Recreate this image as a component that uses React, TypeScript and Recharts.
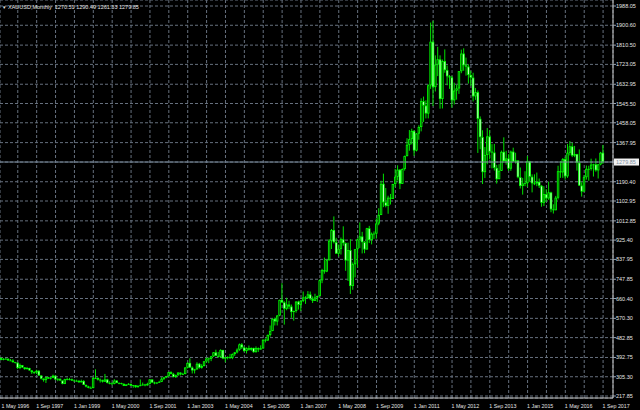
import { Bar, CartesianGrid, ComposedChart, ReferenceLine, XAxis, YAxis } from "recharts";

// monthly XAUUSD, May 1996 .. Sep 2017 (open of each bar = previous close)
const firstOpen = 393;

const closes = [
  391, 382, 385, 387, 379, 379, 371, 369,
  345, 358, 348, 340, 345, 334, 326, 325, 332, 311, 296, 290,
  303, 297, 301, 310, 293, 296, 288, 273, 294, 292, 294, 288,
  287, 287, 280, 286, 268, 261, 255, 254, 299, 300, 292, 290,
  283, 293, 277, 275, 273, 288, 277, 277, 273, 264, 270, 273,
  265, 267, 258, 263, 267, 270, 266, 273, 293, 279, 275, 279,
  282, 296, 302, 308, 326, 318, 304, 312, 324, 317, 318, 347,
  368, 347, 334, 339, 364, 346, 354, 375, 388, 386, 398, 416,
  400, 396, 427, 388, 394, 395, 391, 408, 416, 428, 452, 438,
  422, 435, 428, 436, 417, 435, 429, 434, 473, 470, 495, 513,
  568, 556, 583, 654, 643, 614, 633, 624, 599, 604, 646, 632,
  650, 665, 662, 679, 659, 650, 665, 672, 743, 789, 783, 834,
  923, 971, 916, 864, 886, 929, 912, 833, 880, 717, 816, 884,
  928, 942, 916, 883, 979, 926, 954, 955, 1001, 1040, 1181, 1097,
  1081, 1118, 1113, 1180, 1213, 1245, 1181, 1248, 1307, 1358, 1384, 1421,
  1332, 1409, 1439, 1556, 1536, 1500, 1628, 1826, 1620, 1722, 1746, 1566,
  1738, 1697, 1669, 1664, 1560, 1604, 1614, 1692, 1772, 1719, 1713, 1675,
  1663, 1578, 1597, 1476, 1393, 1234, 1312, 1396, 1327, 1323, 1253, 1202,
  1240, 1326, 1284, 1296, 1250, 1327, 1282, 1287, 1211, 1171, 1182, 1184,
  1283, 1213, 1183, 1183, 1190, 1172, 1095, 1134, 1115, 1142, 1065, 1061,
  1118, 1238, 1233, 1293, 1215, 1322, 1351, 1309, 1316, 1277, 1173, 1146,
  1211, 1249, 1249, 1268, 1269, 1242, 1269, 1322, 1280,
];

const highs = [
  395, 392, 390, 391, 388, 386, 385, 373,
  370, 365, 358, 348, 350, 346, 335, 330, 337, 335, 312, 298,
  306, 305, 303, 315, 310, 298, 297, 289, 296, 301, 300, 297,
  293, 292, 289, 292, 290, 270, 264, 261, 305, 339, 302, 297,
  292, 318, 296, 285, 280, 294, 290, 280, 278, 275, 271, 276,
  274, 268, 268, 268, 293, 279, 273, 278, 294, 294, 283, 280,
  287, 303, 305, 309, 328, 330, 323, 315, 326, 325, 323, 349,
  371, 389, 352, 341, 371, 368, 362, 377, 392, 393, 400, 417,
  428, 418, 430, 427, 395, 398, 409, 411, 418, 434, 456, 458,
  443, 439, 447, 438, 437, 443, 438, 448, 475, 479, 497, 538,
  570, 574, 585, 655, 730, 648, 664, 650, 633, 605, 649, 650,
  652, 692, 671, 694, 692, 670, 682, 673, 747, 795, 846, 839,
  930, 976, 1033, 936, 905, 937, 988, 915, 914, 930, 824, 884,
  933, 1006, 963, 921, 981, 990, 960, 965, 1024, 1070, 1195, 1227,
  1162, 1127, 1135, 1181, 1249, 1265, 1248, 1251, 1309, 1388, 1425, 1431,
  1424, 1411, 1447, 1569, 1577, 1560, 1632, 1913, 1921, 1764, 1803, 1764,
  1745, 1791, 1718, 1675, 1671, 1640, 1630, 1692, 1790, 1796, 1754, 1724,
  1694, 1685, 1616, 1605, 1487, 1424, 1348, 1434, 1424, 1361, 1362, 1267,
  1270, 1332, 1392, 1331, 1315, 1332, 1345, 1322, 1288, 1255, 1208, 1238,
  1307, 1285, 1224, 1224, 1232, 1205, 1175, 1170, 1157, 1191, 1145, 1088,
  1126, 1263, 1283, 1298, 1304, 1362, 1375, 1367, 1353, 1317, 1337, 1188,
  1220, 1264, 1263, 1295, 1272, 1296, 1271, 1326, 1357,
];

const lows = [
  389, 380, 380, 384, 378, 377, 370, 366,
  340, 340, 345, 337, 338, 333, 318, 318, 318, 309, 293, 283,
  277, 295, 293, 299, 290, 285, 287, 271, 272, 289, 289, 286,
  285, 283, 278, 279, 268, 257, 253, 252, 253, 295, 288, 279,
  279, 282, 275, 271, 267, 271, 276, 271, 270, 263, 263, 268,
  263, 255, 255, 256, 262, 265, 262, 265, 270, 277, 271, 272,
  277, 281, 290, 299, 306, 316, 302, 300, 310, 311, 314, 316,
  343, 345, 320, 320, 337, 342, 342, 352, 370, 367, 376, 395,
  399, 391, 392, 385, 371, 384, 386, 385, 400, 411, 423, 431,
  418, 411, 424, 423, 414, 415, 418, 428, 432, 461, 468, 487,
  512, 538, 538, 580, 641, 542, 607, 612, 573, 560, 596, 610,
  603, 644, 636, 660, 653, 640, 649, 645, 671, 730, 773, 780,
  833, 885, 910, 863, 851, 860, 900, 786, 740, 681, 700, 756,
  801, 889, 865, 866, 882, 912, 906, 931, 932, 993, 1039, 1075,
  1074, 1045, 1087, 1113, 1166, 1196, 1157, 1181, 1241, 1305, 1331, 1360,
  1308, 1328, 1381, 1419, 1462, 1478, 1478, 1612, 1534, 1600, 1670, 1522,
  1523, 1685, 1628, 1612, 1527, 1541, 1563, 1589, 1683, 1694, 1672, 1636,
  1626, 1555, 1562, 1321, 1338, 1180, 1207, 1270, 1292, 1251, 1241, 1182,
  1202, 1239, 1277, 1268, 1240, 1240, 1280, 1273, 1206, 1160, 1132, 1170,
  1167, 1190, 1142, 1175, 1170, 1162, 1077, 1080, 1099, 1108, 1052, 1046,
  1061, 1110, 1208, 1208, 1200, 1208, 1310, 1302, 1302, 1241, 1171, 1123,
  1146, 1200, 1195, 1241, 1214, 1236, 1205, 1265, 1271,
];

// one label every 16 bars, one grid line every 8
const dateLabels = [
  "1 May 1996", "1 Sep 1997", "1 Jan 1999", "1 May 2000", "1 Sep 2001", "1 Jan 2003",
  "1 May 2004", "1 Sep 2005", "1 Jan 2007", "1 May 2008", "1 Sep 2009", "1 Jan 2011",
  "1 May 2012", "1 Sep 2013", "1 Jan 2015", "1 May 2016", "1 Sep 2017",
];

const priceTicks = [
  217.85, 305.3, 392.75, 482.85, 570.3, 660.4, 747.85, 837.95, 925.4, 1012.85, 1102.95,
  1190.4, 1279.85, 1367.95, 1458.05, 1545.5, 1632.95, 1723.05, 1810.5, 1900.6, 1988.05,
];

const bid = 1279.85;
const header = "XAUUSD,Monthly  1270.51 1290.49 1261.33 1279.85";

const candles = closes.map((c, i) => ({
  i,
  open: i === 0 ? firstOpen : closes[i - 1],
  close: c,
  range: [lows[i], highs[i]],
}));

const gridTicks = dateLabels.flatMap((_, k) => (k < dateLabels.length - 1 ? [k * 16, k * 16 + 8] : [k * 16]));

const FONT = "'Liberation Sans', Arial, sans-serif";
const LABEL = "#e4e4e4";

function Candle(props: any) {
  const { x, y, width, height, payload } = props;
  if (!payload) return null;
  const [lo, hi] = payload.range;
  const yTop = height < 0 ? y + height : y;
  const h = Math.abs(height);
  const k = hi > lo ? h / (hi - lo) : 0;
  const cx = x + width / 2;
  const top = yTop + (hi - Math.max(payload.open, payload.close)) * k;
  const bot = yTop + (hi - Math.min(payload.open, payload.close)) * k;
  const bh = Math.max(bot - top, 0.8);
  const bull = payload.close >= payload.open;
  return (
    <g>
      <line x1={cx} x2={cx} y1={yTop} y2={yTop + h} stroke="#00e000" strokeWidth={1} />
      <rect x={cx - 1.2} y={top} width={2.4} height={bh} fill="#00ff00" />
      {bh > 2 && (
        <rect x={cx - 0.4} y={top + 0.8} width={0.8} height={bh - 1.6} fill={bull ? "#004400" : "#f0fff0"} />
      )}
    </g>
  );
}

function DateTick(props: any) {
  const { x, y, payload } = props;
  if (payload.value % 16 !== 0) return <g />;
  return (
    <text x={Math.max(x - 0.5, 1.5)} y={y + 7.5} textAnchor="start" fontSize={5.3} fontFamily={FONT} fill={LABEL}>
      {dateLabels[payload.value / 16]}
    </text>
  );
}

function PriceTick(props: any) {
  const { x, y, payload } = props;
  if (Math.abs(payload.value - bid) < 0.001) {
    return (
      <g>
        <rect x={x - 2} y={y - 3.5} width={25} height={7} fill="#f2f2f2" />
        <text x={x} y={y + 2} fontSize={5.5} fontFamily={FONT} fill="#8090a0">
          {payload.value.toFixed(2)}
        </text>
      </g>
    );
  }
  return (
    <text x={x} y={y + 2} fontSize={5.5} fontFamily={FONT} fill={LABEL}>
      {payload.value.toFixed(2)}
    </text>
  );
}

export default function App() {
  return (
    <div
      style={{
        position: "fixed",
        left: 0,
        top: 0,
        width: 640,
        height: 410,
        overflow: "hidden",
        background: "#000",
      }}
    >
      <ComposedChart width={640} height={410} data={candles} margin={{ top: 0, right: 0, left: 0, bottom: 0 }}>
        <CartesianGrid stroke="#66707e" strokeDasharray="3 2" />
        <XAxis
          type="number"
          dataKey="i"
          domain={[0.466, 260.2]}
          allowDataOverflow
          ticks={gridTicks}
          interval={0}
          height={12}
          tickSize={0}
          tickLine={false}
          axisLine={{ stroke: "#c8c8c8" }}
          tick={<DateTick />}
        />
        <YAxis
          orientation="right"
          width={27}
          domain={[208.8, 2015.3]}
          allowDataOverflow
          ticks={priceTicks}
          interval={0}
          tickSize={3}
          tickMargin={0}
          tickLine={{ stroke: "#9aa3ad" }}
          axisLine={{ stroke: "#c8c8c8" }}
          tick={<PriceTick />}
        />
        <ReferenceLine y={bid} stroke="#778899" strokeWidth={1} />
        <Bar dataKey="range" barSize={2} shape={<Candle />} isAnimationActive={false} />
      </ComposedChart>
      <svg width={200} height={12} style={{ position: "absolute", left: 0, top: 0, pointerEvents: "none" }}>
        <text x={2} y={8.5} fontSize={5.5} fontFamily={FONT} fill={LABEL} xmlSpace="preserve">
          <tspan fontSize={4.5}>▼</tspan> {header}
        </text>
      </svg>
    </div>
  );
}
